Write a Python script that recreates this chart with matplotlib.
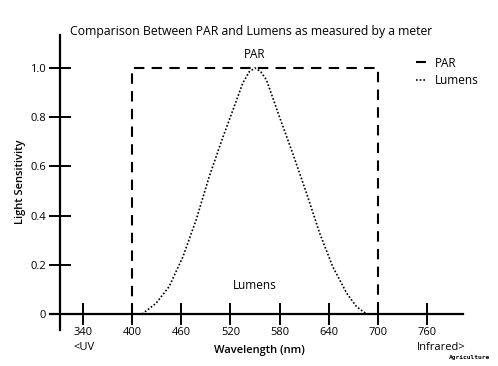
import matplotlib
matplotlib.use("Agg")
import matplotlib.pyplot as plt
import matplotlib.transforms as mtransforms

plt.rcParams['font.family'] = ['Open Sans', 'DejaVu Sans']

# PAR response: flat between 400 and 700 nm
par_nm = [400, 400, 700, 700]
par_val = [0, 1.0, 1.0, 0]

# Lumens (eye sensitivity)
lum_nm = [412, 429, 445, 462, 478, 494, 511, 523, 535, 543, 550,
          557, 564, 580, 596, 613, 629, 645, 662, 674, 682, 687]
lum_val = [0, 0.043, 0.111, 0.233, 0.382, 0.558, 0.721, 0.829, 0.938,
           0.985, 1.0, 0.985, 0.951, 0.80, 0.653, 0.49, 0.328, 0.192,
           0.084, 0.03, 0.01, 0]

x_ticks = [340, 400, 460, 520, 580, 640, 700, 760]
y_ticks = [0, 0.2, 0.4, 0.6, 0.8, 1.0]
y_labels = ['0', '0.2', '0.4', '0.6', '0.8', '1.0']

W, H = 498, 366
fig = plt.figure(figsize=(W / 100, H / 100), dpi=100)
# axes box in pixels: x 50..463, y 35..330 (from top)
ax = fig.add_axes([50 / W, 1 - 330 / H, 413 / W, 295 / H])
ax.set_xlim(299.6, 804)
ax.set_ylim(-0.065, 1.134)

for s in ['top', 'right']:
    ax.spines[s].set_visible(False)
ax.spines['left'].set_position(('data', 312))
ax.spines['bottom'].set_position(('data', 0))
ax.spines['left'].set_linewidth(1.6)
ax.spines['bottom'].set_linewidth(1.6)

ax.plot(par_nm, par_val, color='black', lw=1.5, linestyle=(0, (5, 3.5)),
        label='PAR')
ax.plot(lum_nm, lum_val, color='black', lw=1.2, linestyle=(0, (1, 1.2)),
        label='Lumens')

ax.set_xticks(x_ticks)
ax.set_yticks(y_ticks)
ax.set_yticklabels(y_labels)
ax.tick_params(axis='both', direction='inout', length=16, width=1.4,
               labelsize=8, pad=2)
ax.tick_params(axis='x', pad=1)

# extra labels under the end ticks
trans = mtransforms.blended_transform_factory(ax.transData, fig.transFigure)
ax.text(328, 1 - 348 / H, '<UV', transform=trans, fontsize=8,
        ha='left', va='center')
ax.text(748, 1 - 348 / H, 'Infrared>', transform=trans, fontsize=8,
        ha='left', va='center')
ax.text(555, 1 - 351 / H, 'Wavelength (nm)', transform=trans, fontsize=8,
        ha='center', va='center', fontweight='semibold')

ax.text(550, 1.055, 'PAR', fontsize=8.5, ha='center', va='center')
ax.text(550, 0.115, 'Lumens', fontsize=8.5, ha='center', va='center')

fig.text(20 / W, 1 - 182 / H, 'Light Sensitivity', rotation=90,
         fontsize=8, ha='center', va='center', fontweight='semibold')
fig.text(70 / W, 1 - 31 / H,
         'Comparison Between PAR and Lumens as measured by a meter',
         fontsize=8.8, ha='left', va='center')

leg = ax.legend(loc='upper left', bbox_to_anchor=(405 / W, 1 - 46 / H),
                bbox_transform=fig.transFigure, frameon=False,
                handlelength=0.9, handletextpad=0.7, fontsize=8.5,
                labelspacing=0.4)

fig.text(490 / W, 1 - 358 / H, 'Agriculture', fontsize=4.5,
         family='DejaVu Sans Mono', fontweight='bold', ha='right',
         va='center')

fig.savefig('out.png', dpi=100)
